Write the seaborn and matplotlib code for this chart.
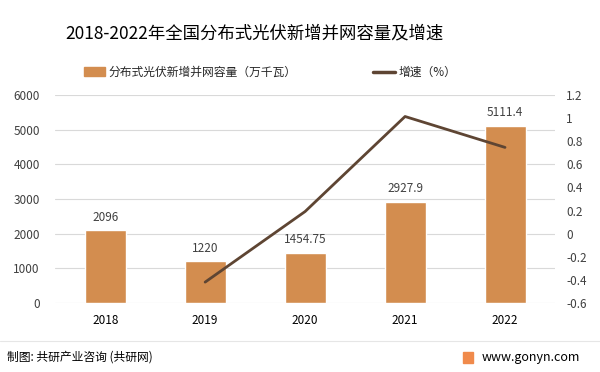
import matplotlib.pyplot as plt
import matplotlib.patches as mpatches
from matplotlib.lines import Line2D
import seaborn as sns
import pandas as pd

# Data
years = ["2018", "2019", "2020", "2021", "2022"]
capacity = [2096, 1220, 1454.75, 2927.9, 5111.4]
growth_years = ["2019", "2020", "2021", "2022"]
growth = [-0.418, 0.192, 1.013, 0.746]

bar_color = "#D38D4F"
line_color = "#5E4533"
grid_color = "#D9D9D9"
text_color = "#404040"

sns.set_theme(style="white")
plt.rcParams["font.family"] = ["Noto Sans CJK SC", "DejaVu Sans"]

df = pd.DataFrame({"year": years, "capacity": capacity})

fig = plt.figure(figsize=(6, 3.72), dpi=100)
ax = fig.add_axes([0.092, 0.185, 0.833, 0.56])

sns.barplot(data=df, x="year", y="capacity", color=bar_color, width=0.41,
            saturation=1, ax=ax, zorder=3)
ax.set_xlim(-0.5, 4.5)
ax.set_ylim(0, 6000)
ax.set_yticks(range(0, 6001, 1000))
ax.grid(axis="y", color=grid_color, linewidth=0.8, zorder=0)
ax.set_xlabel("")
ax.set_ylabel("")
for s in ax.spines.values():
    s.set_visible(False)
ax.tick_params(axis="both", length=0, labelsize=8.5, colors=text_color)
ax.tick_params(axis="y", pad=11)
ax.tick_params(axis="x", pad=8, labelcolor="black")

# bar value labels
for i, v in enumerate(capacity):
    ax.text(i, v + 180, f"{v:g}", ha="center", va="bottom", fontsize=8.5,
            color=text_color)

# growth line on right axis
ax2 = ax.twinx()
pos = [years.index(y) for y in growth_years]
ax2.plot(pos, growth, color=line_color, linewidth=2, zorder=4)
rticks = [round(-0.6 + 0.2 * i, 1) for i in range(10)]
ax2.set_ylim(-0.6, 1.2)
ax2.set_yticks(rticks)
ax2.set_yticklabels([f"{t:g}" for t in rticks])
for s in ax2.spines.values():
    s.set_visible(False)
ax2.tick_params(axis="y", length=0, labelsize=8.5, colors=text_color, pad=8)
ax2.grid(False)

# title
fig.text(0.424, 0.91, "2018-2022年全国分布式光伏新增并网容量及增速",
         ha="center", va="center", fontsize=12.5, color="black")

# legend
handles = [mpatches.Patch(color=bar_color, label="分布式光伏新增并网容量（万千瓦）"),
           Line2D([0], [0], color=line_color, linewidth=2.5, label="增速（%）")]
fig.legend(handles=handles, loc="center", bbox_to_anchor=(0.45, 0.806), ncol=2,
           frameon=False, fontsize=8.5, handlelength=1.8, handletextpad=0.3,
           columnspacing=6.5)

# footer
fig.add_artist(Line2D([0.0, 1.0], [0.083, 0.083], color="#E6E6E6", linewidth=0.8))
fig.text(0.012, 0.04, "制图: 共研产业咨询 (共研网)", ha="left", va="center",
         fontsize=8.5, color="black")
fig.add_artist(mpatches.Rectangle((0.772, 0.025), 0.017, 0.03, color="#F08A4B",
                                  transform=fig.transFigure))
fig.text(0.803, 0.04, "www.gonyn.com", ha="left", va="center", fontsize=9,
         color="black")

fig.savefig("out.png", dpi=100)
